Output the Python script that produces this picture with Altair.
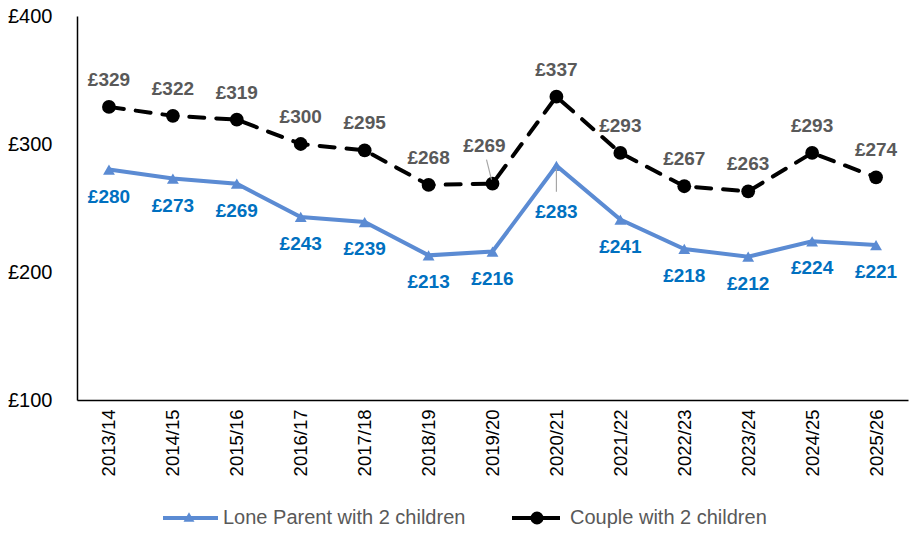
import altair as alt
import pandas as pd

years = ["2013/14", "2014/15", "2015/16", "2016/17", "2017/18", "2018/19", "2019/20",
         "2020/21", "2021/22", "2022/23", "2023/24", "2024/25", "2025/26"]
lone_parent = [280, 273, 269, 243, 239, 213, 216, 283, 241, 218, 212, 224, 221]
couple = [329, 322, 319, 300, 295, 268, 269, 337, 293, 267, 263, 293, 274]

LONE = "Lone Parent with 2 children"
COUPLE = "Couple with 2 children"
BLUE = "#5B8BD3"
BLUE_TXT = "#0070C0"
GREY_TXT = "#595959"
FONT = "Liberation Sans"

df_l = pd.DataFrame({"year": years, "value": lone_parent})
df_c = pd.DataFrame({"year": years, "value": couple})

x = alt.X("year:O", sort=years, title=None,
          scale=alt.Scale(type="point", padding=0.5),
          axis=alt.Axis(labelAngle=-90, labelFontSize=18.5, labelFont=FONT, labelColor="#000000",
                        domainColor="#000000", domainWidth=1.5, ticks=False, labelPadding=9))
y = alt.Y("value:Q", title=None,
          scale=alt.Scale(domain=[100, 400], nice=False, zero=False),
          axis=alt.Axis(values=[100, 200, 300, 400], labelExpr="'£' + datum.value",
                        labelFontSize=20, labelFont=FONT, labelColor="#000000",
                        grid=False, ticks=False, domainColor="#000000", domainWidth=1.5,
                        labelPadding=25))

base_l = alt.Chart(df_l).encode(x=x, y=y).transform_calculate(lbl="'£' + datum.value")
base_c = alt.Chart(df_c).encode(x=x, y=y).transform_calculate(lbl="'£' + datum.value")

line_l = base_l.mark_line(color=BLUE, strokeWidth=4)
pts_l = base_l.mark_point(shape="triangle-up", filled=True, color=BLUE, size=140, opacity=1)
line_c = base_c.mark_line(color="#000000", strokeWidth=4, strokeDash=[15, 12], strokeCap="round")
pts_c = base_c.mark_circle(color="#000000", size=190, opacity=1)

TXT = dict(fontSize=19, fontWeight="bold", font=FONT)

lbl_l = base_l.transform_filter(alt.datum.year != "2020/21").mark_text(
    color=BLUE_TXT, dy=27, **TXT
).encode(text="lbl:N")
lbl_l_sp = base_l.transform_filter(alt.datum.year == "2020/21").mark_text(
    color=BLUE_TXT, dy=46, **TXT
).encode(text="lbl:N")
lead_l = base_l.transform_filter(alt.datum.year == "2020/21").mark_rule(
    color="#A6A6A6", strokeWidth=1.2, yOffset=3, y2Offset=26
).encode(x2="year:O", y2="value:Q")

lbl_c = base_c.transform_filter(alt.datum.year != "2019/20").mark_text(
    color=GREY_TXT, dy=-27, **TXT
).encode(text="lbl:N")
lbl_c_sp = base_c.transform_filter(alt.datum.year == "2019/20").mark_text(
    color=GREY_TXT, dy=-38, dx=-8, **TXT
).encode(text="lbl:N")
lead_c = base_c.transform_filter(alt.datum.year == "2019/20").mark_rule(
    color="#A6A6A6", strokeWidth=1.2, xOffset=-1, yOffset=-4, x2Offset=-6, y2Offset=-24
).encode(x2="year:O", y2="value:Q")

# Legend (manual, below plot)
leg_y = 518 - 16
leg_line_l = alt.Chart(df_l.head(1)).mark_rule(color=BLUE, strokeWidth=4).encode(
    x=alt.value(163 - 77), x2=alt.value(218 - 77), y=alt.value(leg_y))
leg_pt_l = alt.Chart(df_l.head(1)).mark_point(shape="triangle-up", filled=True, color=BLUE,
                                              size=120, opacity=1).encode(
    x=alt.value(189 - 77), y=alt.value(leg_y - 1))
leg_txt_l = alt.Chart(df_l.head(1)).mark_text(align="left", baseline="middle", fontSize=20,
                                              font=FONT, color=GREY_TXT).encode(
    x=alt.value(223 - 77), y=alt.value(leg_y), text=alt.value(LONE))
leg_line_c = alt.Chart(df_c.head(1)).mark_rule(color="#000000", strokeWidth=4).encode(
    x=alt.value(512 - 77), x2=alt.value(560 - 77), y=alt.value(leg_y))
leg_pt_c = alt.Chart(df_c.head(1)).mark_circle(color="#000000", size=170, opacity=1).encode(
    x=alt.value(537 - 77), y=alt.value(leg_y))
leg_txt_c = alt.Chart(df_c.head(1)).mark_text(align="left", baseline="middle", fontSize=20,
                                              font=FONT, color=GREY_TXT).encode(
    x=alt.value(570 - 77), y=alt.value(leg_y), text=alt.value(COUPLE))

chart = alt.layer(
    line_l, pts_l, line_c, pts_c, lead_l, lead_c, lbl_l, lbl_l_sp, lbl_c, lbl_c_sp,
    leg_line_l, leg_pt_l, leg_txt_l, leg_line_c, leg_pt_c, leg_txt_c
).properties(
    width=831, height=384,
    autosize=alt.AutoSizeParams(type="none"),
    padding={"left": 77, "top": 16, "right": 8, "bottom": 138},
    background="#FFFFFF"
).configure_view(stroke=None)

chart.save("out.html", embed_options={"renderer": "svg", "actions": False})
